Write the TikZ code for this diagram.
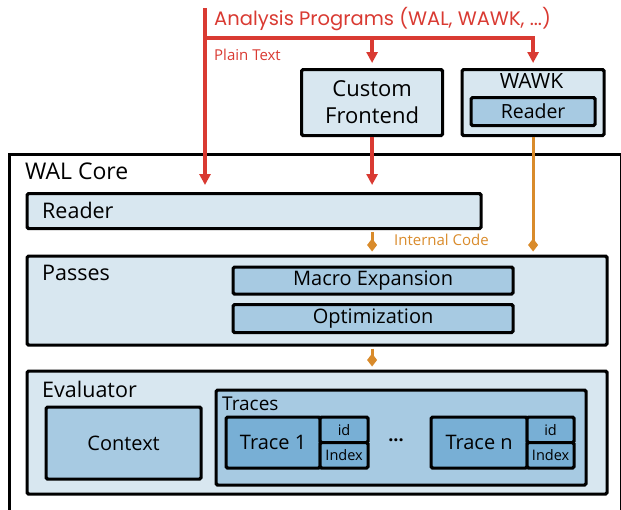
\documentclass[tikz,border=0pt]{standalone}
\usepackage{fontspec}
\setmainfont{Open Sans}
\newfontfamily\titlefont{Poppins}
\usetikzlibrary{arrows.meta}
\definecolor{lightfill}{HTML}{D8E7F0}
\definecolor{midfill}{HTML}{A7CAE2}
\definecolor{darkfill}{HTML}{78AFD5}
\definecolor{redc}{HTML}{D93A32}
\definecolor{orangec}{HTML}{D98B2B}
\newcommand{\fs}[1]{\fontsize{#1}{#1}\selectfont}
\tikzset{
  box/.style={draw=black, line width=3.2pt, rounded corners=1.5pt, inner sep=0pt, anchor=north west},
  lbox/.style={box, fill=lightfill},
  mbox/.style={box, fill=midfill},
  dbox/.style={box, fill=darkfill},
  lbl/.style={anchor=west, inner sep=0pt, font=\fs{21.5}},
  small/.style={inner sep=0pt, font=\fs{14.5}},
  redarrow/.style={draw=redc, line width=3.5pt, -{Triangle[length=11pt,width=11pt]}},
  redline/.style={draw=redc, line width=3.5pt},
  orarrow/.style={draw=orangec, line width=3pt, -{Diamond[length=13pt,width=10pt]}},
}
\begin{document}
\begin{tikzpicture}[x=1pt,y=-1pt]
\useasboundingbox (0,0) rectangle (621,509);
% outer core
\node[box, rounded corners=0pt, minimum width=612pt, minimum height=370pt] (core) at (7.5,153) {};
\node[lbl, font=\fs{23}] (coret) at (25,171) {WAL Core};
% top boxes
\node[lbox, minimum width=141pt, minimum height=66pt] (custom) at (300,68) {};
\node[align=center, font=\fontsize{22}{27}\selectfont, inner sep=0pt] (customt) at (custom.center) {Custom\\Frontend};
\node[lbox, minimum width=142pt, minimum height=66pt] (wawk) at (460.5,68) {};
\node[lbl, anchor=center, font=\fs{21}] (wawkt) at (531.5,81) {WAWK};
\node[mbox, minimum width=124pt, minimum height=28pt] (wreader) at (469.5,96) {};
\node[lbl, anchor=center, font=\fs{19.5}] (wreadert) at (wreader.center) {Reader};
% reader
\node[lbox, minimum width=454pt, minimum height=35pt] (reader) at (25.5,192) {};
\node[lbl] (readert) at (42,210) {Reader};
% passes
\node[lbox, minimum width=580pt, minimum height=89pt] (passes) at (25.5,254.5) {};
\node[lbl] (passest) at (42,273) {Passes};
\node[mbox, minimum width=280pt, minimum height=27pt] (macro) at (231.5,265.5) {};
\node[lbl, anchor=center, font=\fs{20}] (macrot) at (macro.center) {Macro Expansion};
\node[mbox, minimum width=280pt, minimum height=28pt] (opt) at (231.5,303) {};
\node[lbl, anchor=center, font=\fs{20}] (optt) at (opt.center) {Optimization};
% evaluator
\node[lbox, minimum width=580pt, minimum height=123pt] (eval) at (25.5,369.5) {};
\node[lbl] (evalt) at (42,389) {Evaluator};
\node[mbox, minimum width=155pt, minimum height=72pt] (ctx) at (44.5,405.5) {};
\node[lbl, anchor=center, font=\fs{20}] (ctxt) at (ctx.center) {Context};
\node[mbox, minimum width=370pt, minimum height=95pt] (traces) at (214.5,388.5) {};
\node[lbl, font=\fs{19}] (tracest) at (222,404) {Traces};
% trace 1
\node[dbox, minimum width=94pt, minimum height=51pt] (t1) at (224.5,415.5) {};
\node[lbl, anchor=center, font=\fs{20}] (t1t) at (t1.center) {Trace 1};
\node[dbox, minimum width=48pt, minimum height=25.5pt] (t1id) at (318.5,415.5) {};
\node[small, anchor=center] (t1idt) at (t1id.center) {id};
\node[dbox, minimum width=48pt, minimum height=25.5pt] (t1ix) at (318.5,441) {};
\node[small, anchor=center] (t1ixt) at (t1ix.center) {Index};
\node[lbl, anchor=center, font=\fs{18}\bfseries] (dots) at (396,440) {...};
% trace n
\node[dbox, minimum width=96pt, minimum height=51pt] (tn) at (429.5,415.5) {};
\node[lbl, anchor=center, font=\fs{20}] (tnt) at (tn.center) {Trace n};
\node[dbox, minimum width=47pt, minimum height=25.5pt] (tnid) at (525.5,415.5) {};
\node[small, anchor=center] (tnidt) at (tnid.center) {id};
\node[dbox, minimum width=47pt, minimum height=25.5pt] (tnix) at (525.5,441) {};
\node[small, anchor=center] (tnixt) at (tnix.center) {Index};
% red inputs
\coordinate (src) at (205,8);
\coordinate (branch) at (205,38);
\node[anchor=west, inner sep=0pt, text=redc, font=\titlefont\fs{19.5}] (title) at (214,19) {Analysis Programs (WAL, WAWK, ...)};
\node[anchor=west, inner sep=0pt, text=redc, font=\fs{15}] (plain) at (214,55) {Plain Text};
\draw[redarrow, shorten >=7pt] (src) -- (src |- reader.north);
\draw[redline] (branch) -- ([xshift=1.75pt]branch -| wawk.north);
\draw[redarrow, shorten >=5pt] (branch -| custom.north) -- (custom.north);
\draw[redarrow, shorten >=5pt] (branch -| wawk.north) -- (wawk.north);
\draw[redarrow, shorten >=7pt] (custom.south) -- (custom.south |- reader.north);
% orange
\node[anchor=west, inner sep=0pt, text=orangec, font=\fs{15}] (icode) at (394,240) {Internal Code};
\draw[orarrow, shorten >=3pt, shorten <=2pt] (custom.south |- reader.south) -- (custom.south |- passes.north);
\draw[orarrow, shorten >=3pt] (wawk.south) -- (wawk.south |- passes.north);
\draw[orarrow, shorten >=3pt, shorten <=2pt] (custom.south |- passes.south) -- (custom.south |- eval.north);
\end{tikzpicture}
\end{document}
